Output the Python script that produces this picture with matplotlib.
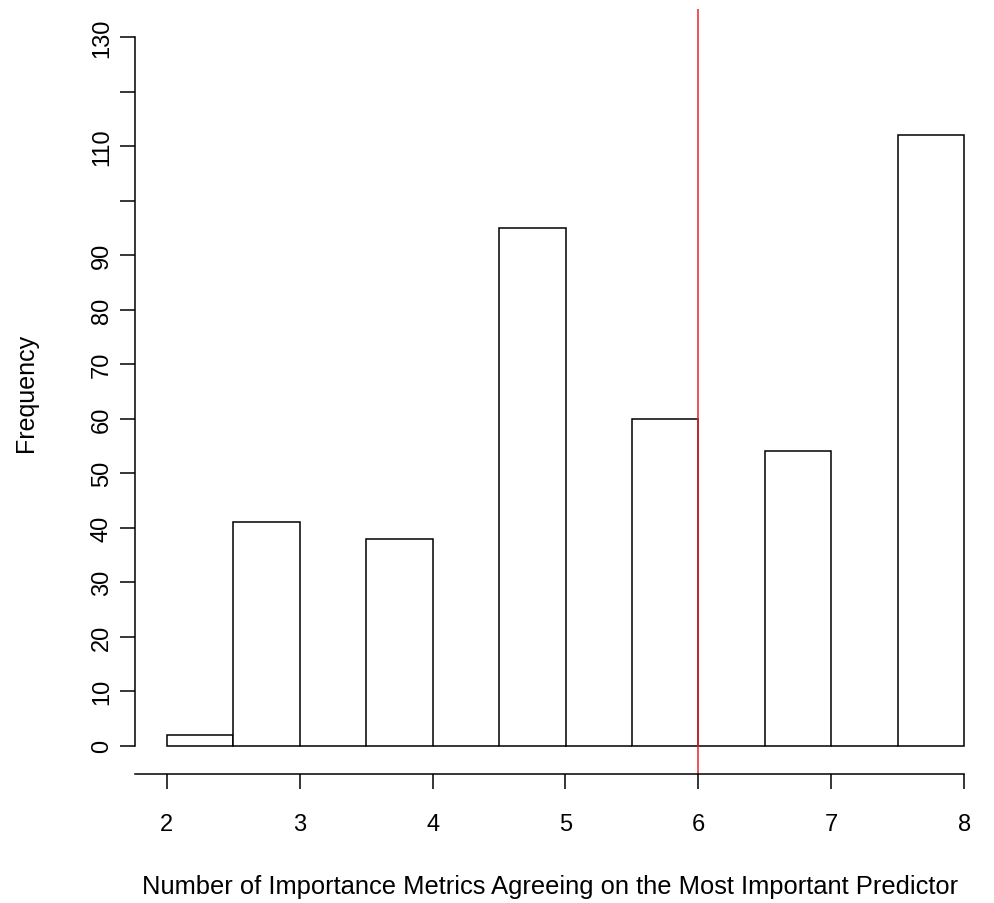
import numpy as np
import matplotlib
matplotlib.use("Agg")
import matplotlib.pyplot as plt

# histogram bins and counts
bin_edges = [2.0, 2.5, 3.0, 3.5, 4.0, 4.5, 5.0, 5.5, 6.0, 6.5, 7.0, 7.5, 8.0]
counts = [2, 41, 0, 38, 0, 95, 0, 60, 0, 54, 0, 112]
cutoff = 6
x_ticks = [2, 3, 4, 5, 6, 7, 8]
y_ticks = [0, 10, 20, 30, 40, 50, 60, 70, 80, 90, 100, 110, 120, 130]
# R drops the labels that would overlap
y_labels = ["0", "10", "20", "30", "40", "50", "60", "70", "80", "90", "", "110", "", "130"]

plt.rcParams["font.family"] = ["Liberation Sans", "DejaVu Sans"]

fig = plt.figure(figsize=(9.95, 9.04), dpi=100)
ax = fig.add_axes([135 / 995, 1 - 775 / 904, 861 / 995, 765 / 904])

edges = np.array(bin_edges)
ax.bar(edges[:-1], counts, width=np.diff(edges), align="edge",
       facecolor="white", edgecolor="black", linewidth=1.1)
ax.axvline(cutoff, color="#e8262b", linewidth=1.1)

# R style axis ranges (4% padding)
ax.set_xlim(1.76, 8.24)
ax.set_ylim(-5.2, 135.2)

for s in ["top", "right"]:
    ax.spines[s].set_visible(False)
ax.spines["left"].set_bounds(0, 130)
ax.spines["bottom"].set_bounds(1.76, 8)
for s in ["left", "bottom"]:
    ax.spines[s].set_linewidth(1.1)

ax.set_xticks(x_ticks)
ax.set_yticks(y_ticks)
ax.set_yticklabels(y_labels, rotation=90, va="center")
ax.tick_params(axis="both", direction="out", length=11, width=1.1, labelsize=17)
ax.tick_params(axis="x", pad=17)
ax.tick_params(axis="y", pad=5)

ax.set_xlabel("Number of Importance Metrics Agreeing on the Most Important Predictor",
              fontsize=18.4, labelpad=27)
ax.xaxis.set_label_coords(0.482, -0.1)
ax.xaxis.label.set_va("center")
ax.xaxis.set_label_coords(0.482, -(887 - 775) / 765)
ax.set_ylabel("Frequency", fontsize=18, labelpad=38)

fig.savefig("out.png", dpi=100)
